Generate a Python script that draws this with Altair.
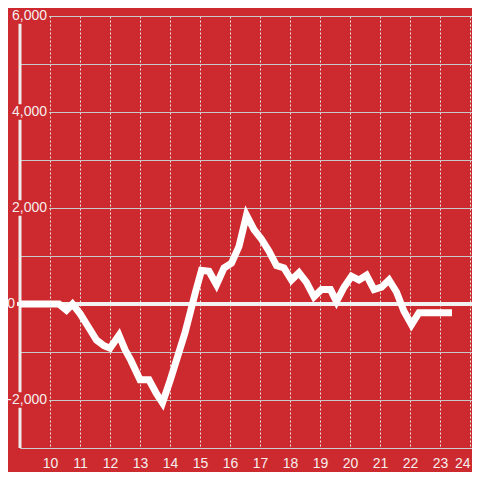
import altair as alt
import pandas as pd

# ---- data ----
hours = [9.0, 10.3, 10.55, 10.75, 11.0, 11.3, 11.55, 11.8, 12.0, 12.3,
         12.5, 12.7, 13.0, 13.3, 13.55, 13.75, 14.0, 14.5, 14.85,
         15.05, 15.3, 15.55, 15.8, 16.05, 16.3, 16.55, 16.8, 17.05, 17.3,
         17.55, 17.8, 18.05, 18.3, 18.55, 18.8, 19.05, 19.35, 19.55, 19.8,
         20.05, 20.3, 20.55, 20.8, 21.05, 21.3, 21.55, 21.8, 22.05, 22.3,
         23.4]
values = [0, 0, -130, 0, -200, -500, -750, -870, -920, -650,
          -950, -1180, -1580, -1580, -1870, -2060, -1600, -600, 250,
          700, 680, 400, 750, 850, 1200, 1850, 1550, 1350, 1100,
          800, 750, 500, 650, 450, 150, 300, 300, 50, 350,
          580, 500, 600, 300, 350, 500, 250, -150, -430, -180,
          -180]

x_ticks = list(range(10, 25))
y_grid = [-3000, -2000, -1000, 0, 1000, 2000, 3000, 4000, 5000, 6000]
y_label_vals = [6000, 4000, 2000, -2000]
y_label_text = ["6,000", "4,000", "2,000", "-2,000"]
zero_label = ["0"]

# ---- styling ----
BG = "#cd2a2f"
TXT = "#f4eeee"
FONT = "Liberation Sans"
W, H = 452, 432

xs = alt.Scale(domain=[9, 24.0667], nice=False, zero=False)
ys = alt.Scale(domain=[-3000, 6000], nice=False, zero=False)

x_axis = alt.Axis(
    values=x_ticks, grid=True, gridDash=[2, 2], gridColor="#e8e8e8",
    gridWidth=1, ticks=False, domain=True, domainColor="#cccccc",
    domainWidth=1, labelFontSize=14, labelColor=TXT, labelFont=FONT,
    labelPadding=8, labelFlush=3, title=None)
y_axis = alt.Axis(
    values=y_grid, grid=True, gridColor="#c8c8c8", gridWidth=1,
    labels=False, ticks=False, domain=False, title=None)

df = pd.DataFrame({"h": hours, "v": values})
lab_df = pd.DataFrame({"t": y_label_vals, "lab": y_label_text})
zero_df = pd.DataFrame({"t": [0], "lab": zero_label})
one = pd.DataFrame({"z": [0]})

vaxis = alt.Chart(one).mark_rule(color="#eeeeee", strokeWidth=3).encode(
    x=alt.X(datum=9, scale=xs, axis=x_axis),
    y=alt.Y(datum=6000, scale=ys, axis=y_axis),
    y2=alt.Y2(datum=-3000),
)

lab_bg = alt.Chart(lab_df).transform_calculate(
    lo="datum.t - 160", hi="datum.t + 160"
).mark_rect(color=BG).encode(
    x=alt.value(-12), x2=alt.value(29),
    y=alt.Y("lo:Q", scale=ys, axis=y_axis), y2="hi:Q",
)

zero_bg = alt.Chart(one).mark_rect(color=BG).encode(
    x=alt.value(-12), x2=alt.value(-3),
    y=alt.Y(datum=310, scale=ys, axis=y_axis), y2=alt.Y2(datum=-170),
)

labels = alt.Chart(lab_df).mark_text(
    align="right", baseline="middle", fontSize=14, font=FONT, color=TXT
).encode(
    x=alt.value(27), y=alt.Y("t:Q", scale=ys, axis=y_axis), text="lab:N"
)

zlabel = alt.Chart(zero_df).mark_text(
    align="right", baseline="middle", fontSize=14, font=FONT, color=TXT
).encode(
    x=alt.value(-5), y=alt.Y("t:Q", scale=ys, axis=y_axis), text="lab:N"
)

zero_line = alt.Chart(one).mark_rule(color="#f2f2f2", strokeWidth=4).encode(
    x=alt.value(-3), x2=alt.value(W),
    y=alt.Y(datum=0, scale=ys, axis=y_axis),
)

line = alt.Chart(df).mark_line(
    color="white", strokeWidth=7, strokeCap="butt", strokeJoin="miter"
).encode(
    x=alt.X("h:Q", scale=xs, axis=x_axis),
    y=alt.Y("v:Q", scale=ys, axis=y_axis),
)

chart = alt.layer(
    vaxis, lab_bg, zero_bg, labels, zlabel, zero_line, line
).properties(
    width=W, height=H,
    autosize=alt.AutoSizeParams(type="none"),
    padding={"left": 12, "top": 8, "right": 0, "bottom": 24},
    background=BG,
).configure_view(stroke=None)

chart.save("out.html", embed_options={"renderer": "svg", "actions": False})
